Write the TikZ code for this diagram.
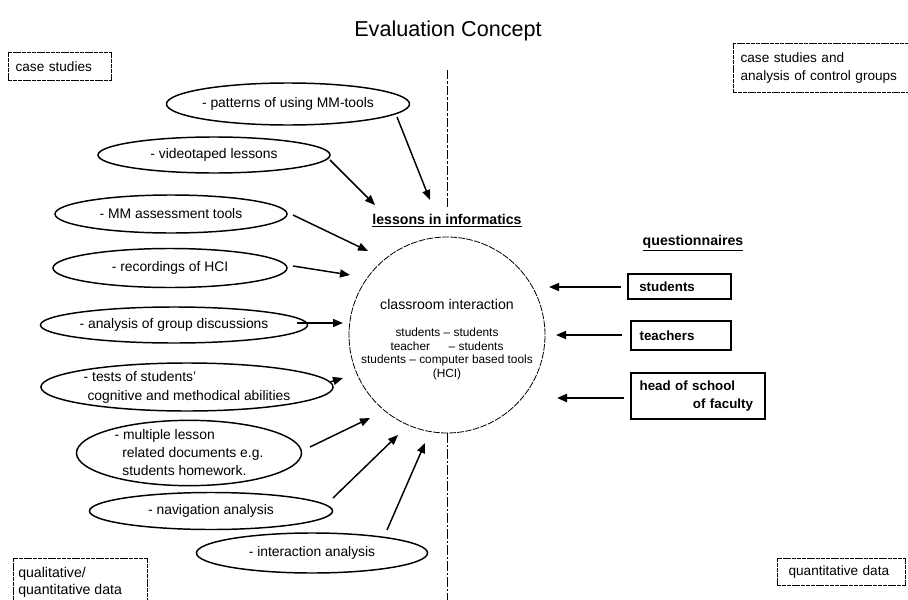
\documentclass[tikz,border=0pt]{standalone}
\usepackage{fontspec}
\setmainfont{Liberation Sans}
\usetikzlibrary{arrows.meta,shapes.geometric}
\begin{document}
\begin{tikzpicture}[x=0.75pt,y=-0.75pt,
  src/.style={ellipse,draw,line width=1.1pt,inner sep=0pt,font=\fontsize{10.4}{13.5}\selectfont,align=left},
  qbox/.style={draw,line width=1.2pt,font=\bfseries\fontsize{10}{13.5}\selectfont,align=left,anchor=north west,inner sep=0pt},
  note/.style={draw,line width=0.4pt,dash pattern=on 3pt off 0.6pt,font=\fontsize{10.2}{13.5}\selectfont,align=left,inner sep=0pt,anchor=north west},
  arr/.style={-{Triangle[length=7.5pt,width=6pt]},line width=1.1pt},
  vline/.style={line width=0.7pt,dash pattern=on 7pt off 1.5pt on 2pt off 1.5pt}]
\useasboundingbox (0,0) rectangle (908,600);
% title
\node[font=\fontsize{16.2}{18}\selectfont] (title) at (448,31) {Evaluation Concept};
% corner notes
\node[note,minimum width=103*0.75pt,minimum height=28*0.75pt,text width=99*0.75pt] (cs) at (8,52) {\hspace*{4pt}case studies};
\node[note,minimum width=176*0.75pt,minimum height=49*0.75pt,text width=172*0.75pt,anchor=north west] (csa) at (733,43) {\hspace*{4pt}case studies and\\\hspace*{4pt}analysis of control groups\\[2pt]};
\node[note,minimum width=128*0.75pt,minimum height=27*0.75pt,text width=124*0.75pt] (qd) at (777,558) {\hspace*{7pt}quantitative data};
\coordinate (ql1) at (13,605);
\coordinate (ql2) at (147,605);
\draw[line width=0.4pt,dash pattern=on 3pt off 0.6pt] (ql1) |- (147,558) -- (ql2);
\node[anchor=north west,font=\fontsize{10.6}{13}\selectfont,align=left,inner sep=0pt] (ql) at (18,567) {qualitative/\\quantitative data};
% vertical line
\coordinate (vt) at (447,70);
\coordinate (vm) at (447,208);
\coordinate (vb) at (447,600);
\draw[vline] (vt) -- (vm);
% lessons label
\node[font=\bfseries\fontsize{10.6}{12}\selectfont] (lessons) at (447,221) {\underline{lessons in informatics}};
% circle
\node[circle,draw,line width=0.6pt,dash pattern=on 5pt off 1pt,minimum size=196*0.75pt,inner sep=0pt] (cl) at (447,335) {};
\draw[vline] (cl.south) -- (vb);
\node[font=\fontsize{10.6}{12}\selectfont] (ci) at (447,304) {classroom interaction};
\node[font=\fontsize{8.9}{10.3}\selectfont,align=center] (cil) at (447,354) {students -- students\\teacher\hspace{14pt}-- students\\students -- computer based tools\\(HCI)};
% questionnaires
\node[font=\bfseries\fontsize{10.6}{12}\selectfont] (quest) at (693,243) {\underline{questionnaires}};
\node[qbox,minimum width=103*0.75pt,minimum height=25*0.75pt,text width=96*0.75pt] (stu) at (627,273) {\hspace*{6pt}students};
\node[qbox,minimum width=100*0.75pt,minimum height=29*0.75pt,text width=93*0.75pt] (tea) at (630,320) {\hspace*{4pt}teachers};
\node[qbox,minimum width=134*0.75pt,minimum height=46*0.75pt,text width=127*0.75pt] (hos) at (630,372) {\hspace*{4pt}head of school\\\hspace*{44pt}of faculty};
\coordinate (stuS) at (621,287);
\coordinate (stuE) at (549,287);
\coordinate (teaS) at (622,335);
\coordinate (teaE) at (556,335);
\coordinate (hosS) at (624,398);
\coordinate (hosE) at (557,398);
\draw[arr] (stuS) -- (stuE);
\draw[arr] (teaS) -- (teaE);
\draw[arr,line width=1.6pt] (hosS) -- (hosE);
% sources
\node[src,minimum width=231*0.75pt,minimum height=42*0.75pt] (e1) at (288,104) {- patterns of using MM-tools};
\node[src,minimum width=232*0.75pt,minimum height=36*0.75pt] (e2) at (214,155) {- videotaped lessons};
\node[src,minimum width=232*0.75pt,minimum height=38*0.75pt] (e3) at (171,214) {- MM assessment tools};
\node[src,minimum width=234*0.75pt,minimum height=39*0.75pt] (e4) at (170,268) {- recordings of HCI};
\node[src,minimum width=235*0.75pt,minimum height=36*0.75pt] (e5) at (174,325) {- analysis of group discussions};
\node[src,minimum width=281*0.75pt,minimum height=48*0.75pt,font=\fontsize{10.4}{14.3}\selectfont] (e6) at (187,387) {- tests of students'\\\ cognitive and methodical abilities};
\node[src,minimum width=225*0.75pt,minimum height=57*0.75pt] (e7) at (189,453) {- multiple lesson\\\ \ related documents e.g.\\\ \ students homework.};
\node[src,minimum width=243*0.75pt,minimum height=37*0.75pt] (e8) at (211,511) {- navigation analysis};
\node[src,minimum width=231*0.75pt,minimum height=40*0.75pt] (e9) at (312,553) {- interaction analysis};
% arrow ends
\coordinate (s1) at (397,117); \coordinate (t1) at (430,200);
\coordinate (s2) at (330,160); \coordinate (t2) at (375,205);
\coordinate (s3) at (293,215); \coordinate (t3) at (368,251);
\coordinate (s4) at (293,266); \coordinate (t4) at (350,275);
\coordinate (s5) at (297,323); \coordinate (t5) at (343,323);
\coordinate (s6) at (330,382); \coordinate (t6) at (343,378);
\coordinate (s7) at (310,447); \coordinate (t7) at (370,418);
\coordinate (s8) at (333,498); \coordinate (t8) at (398,435);
\coordinate (s9) at (387,530); \coordinate (t9) at (425,443);
\draw[arr] (s1) -- (t1);
\draw[arr] (s2) -- (t2);
\draw[arr] (s3) -- (t3);
\draw[arr] (s4) -- (t4);
\draw[arr] (s5) -- (t5);
\draw[arr] (s6) -- (t6);
\draw[arr] (s7) -- (t7);
\draw[arr] (s8) -- (t8);
\draw[arr] (s9) -- (t9);
\end{tikzpicture}
\end{document}
